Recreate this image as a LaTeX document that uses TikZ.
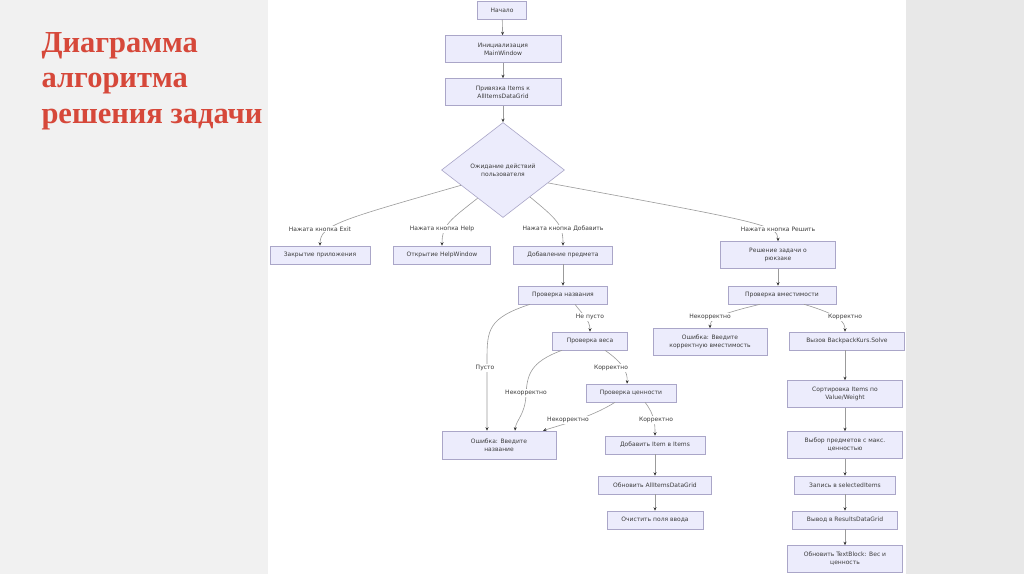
\documentclass[tikz,border=0pt]{standalone}
\usepackage{fontspec}
\setmainfont{Liberation Serif}
\newfontfamily\boxfont{DejaVu Sans}
\usetikzlibrary{shapes.geometric,arrows.meta}
\definecolor{titlered}{RGB}{214,72,58}
\definecolor{boxfill}{RGB}{236,236,252}
\definecolor{boxline}{RGB}{170,166,200}
\definecolor{edgecol}{RGB}{155,155,155}
\definecolor{txt}{RGB}{60,60,60}
\definecolor{leftbg}{RGB}{241,241,241}
\definecolor{rightbg}{RGB}{232,232,232}
\begin{document}
\begin{tikzpicture}[x=1pt,y=-1pt,
 box/.style={draw=boxline,fill=boxfill,line width=0.6pt,font=\boxfont\fontsize{6}{8}\selectfont,text=txt,align=center,inner sep=1pt,minimum height=18pt},
 box2/.style={box,minimum height=27pt},
 lbl/.style={fill=white,font=\boxfont\fontsize{6}{7}\selectfont,text=txt,inner sep=1pt},
 arr/.style={draw=edgecol,line width=0.6pt,-{Stealth[length=3.5pt,width=3pt,color=black!80]}},
]
\useasboundingbox (0,0) rectangle (1024,574);
\fill[leftbg] (0,0) rectangle (268,574);
\fill[white] (268,0) rectangle (906,574);
\fill[rightbg] (906,0) rectangle (1024,574);

\node[anchor=west,text=titlered,font=\fontsize{30.5}{35.5}\selectfont\bfseries,align=left] (title) at (38,81) {Диаграмма\\алгоритма\\решения задачи};

% main column
\node[box,minimum width=49pt] (start) at (502,10) {Начало};
\node[box2,minimum width=116pt] (init) at (503,49) {Инициализация\\MainWindow};
\node[box2,minimum width=116pt] (bind) at (503,92) {Привязка Items к\\AllItemsDataGrid};
\node[diamond,draw=boxline,fill=boxfill,line width=0.6pt,minimum width=123pt,minimum height=95pt,inner sep=0pt,align=center,font=\boxfont\fontsize{6}{8}\selectfont,text=txt] (wait) at (503,170) {Ожидание действий\\пользователя};

\node[box,minimum width=100pt] (exit) at (320,255) {Закрытие приложения};
\node[box,minimum width=97pt] (help) at (442,255) {Открытие HelpWindow};
\node[box,minimum width=99pt] (add) at (563,255) {Добавление предмета};
\node[box2,minimum width=115pt] (solve) at (778,255) {Решение задачи о\\рюкзаке};

\node[box,minimum width=89pt] (pn) at (563,295) {Проверка названия};
\node[box,minimum width=108pt] (pv) at (782,295) {Проверка вместимости};
\node[box,minimum width=75pt] (pw) at (590,341) {Проверка веса};
\node[box2,minimum width=114pt] (errv) at (710,342) {Ошибка: Введите\\корректную вместимость};
\node[box,minimum width=115pt] (call) at (847,341) {Вызов BackpackKurs.Solve};
\node[box,minimum width=90pt] (pc) at (631,393) {Проверка ценности};
\node[box2,minimum width=114pt,minimum height=28pt] (err) at (499,445) {Ошибка: Введите\\название};
\node[box,minimum width=100pt] (addi) at (655,445) {Добавить Item в Items};
\node[box,minimum width=113pt] (upd) at (655,485) {Обновить AllItemsDataGrid};
\node[box,minimum width=96pt] (clr) at (655,520) {Очистить поля ввода};

\node[box2,minimum width=115pt] (sort) at (845,394) {Сортировка Items по\\Value/Weight};
\node[box2,minimum width=115pt] (sel) at (845,445) {Выбор предметов с макс.\\ценностью};
\node[box,minimum width=101pt] (rec) at (845,485) {Запись в selectedItems};
\node[box,minimum width=105pt] (out) at (845,520) {Вывод в ResultsDataGrid};
\node[box2,minimum width=115pt] (tb) at (845,559) {Обновить TextBlock: Вес и\\ценность};

% edges
\draw[arr] (start) -- (init);
\draw[arr] (init) -- (bind);
\draw[arr] (bind) -- (wait);
\draw[arr] (wait.200) .. controls (340,220) and (320,225) .. (exit.north);
\draw[arr] (wait.228) .. controls (450,220) and (442,225) .. (help.north);
\draw[arr] (wait.315) .. controls (558,220) and (563,225) .. (add.north);
\draw[arr] (wait.344) .. controls (760,222) and (778,225) .. (solve.north);
\draw[arr] (add) -- (pn);
\draw[arr] (solve.south) -- (solve.south |- pv.north);
\draw[arr] ([xshift=12pt]pn.south) .. controls (582,314) and (590,320) .. (pw.north);
\draw[arr] ([xshift=-33pt]pn.south) .. controls (488,318) and (487,330) .. (487,360) -- ([xshift=-12pt]err.north);
\draw[arr] ([xshift=-28pt]pw.south) .. controls (530,362) and (527,375) .. (526,395) .. controls (525,415) and (516,420) .. ([xshift=16pt]err.north);
\draw[arr] ([xshift=15pt]pw.south) .. controls (622,362) and (628,372) .. ([xshift=-4pt]pc.north);
\draw[arr] ([xshift=-16pt]pc.south) .. controls (590,418) and (560,425) .. ([xshift=44pt]err.north);
\draw[arr] ([xshift=14pt]pc.south) .. controls (655,415) and (655,425) .. (addi.north);
\draw[arr] (addi) -- (upd);
\draw[arr] (upd) -- (clr);
\draw[arr] ([xshift=-22pt]pv.south) .. controls (715,315) and (710,320) .. (errv.north);
\draw[arr] ([xshift=22pt]pv.south) .. controls (840,315) and (845,322) .. (call.north -| sort.north);
\draw[arr] (call.south -| sort.north) -- (sort.north);
\draw[arr] (sort) -- (sel);
\draw[arr] (sel) -- (rec);
\draw[arr] (rec) -- (out);
\draw[arr] (out) -- (tb);

% labels
\node[lbl] (l1) at (320,229) {Нажата кнопка Exit};
\node[lbl] (l2) at (442,229) {Нажата кнопка Help};
\node[lbl] (l3) at (563,229) {Нажата кнопка Добавить};
\node[lbl] (l4) at (778,229) {Нажата кнопка Решить};
\node[lbl] (l5) at (590,317) {Не пусто};
\node[lbl] (l6) at (710,317) {Некорректно};
\node[lbl] (l7) at (845,317) {Корректно};
\node[lbl] (l8) at (485,368) {Пусто};
\node[lbl] (l9) at (611,368) {Корректно};
\node[lbl] (l10) at (526,393) {Некорректно};
\node[lbl] (l11) at (568,420) {Некорректно};
\node[lbl] (l12) at (656,420) {Корректно};
\end{tikzpicture}
\end{document}
